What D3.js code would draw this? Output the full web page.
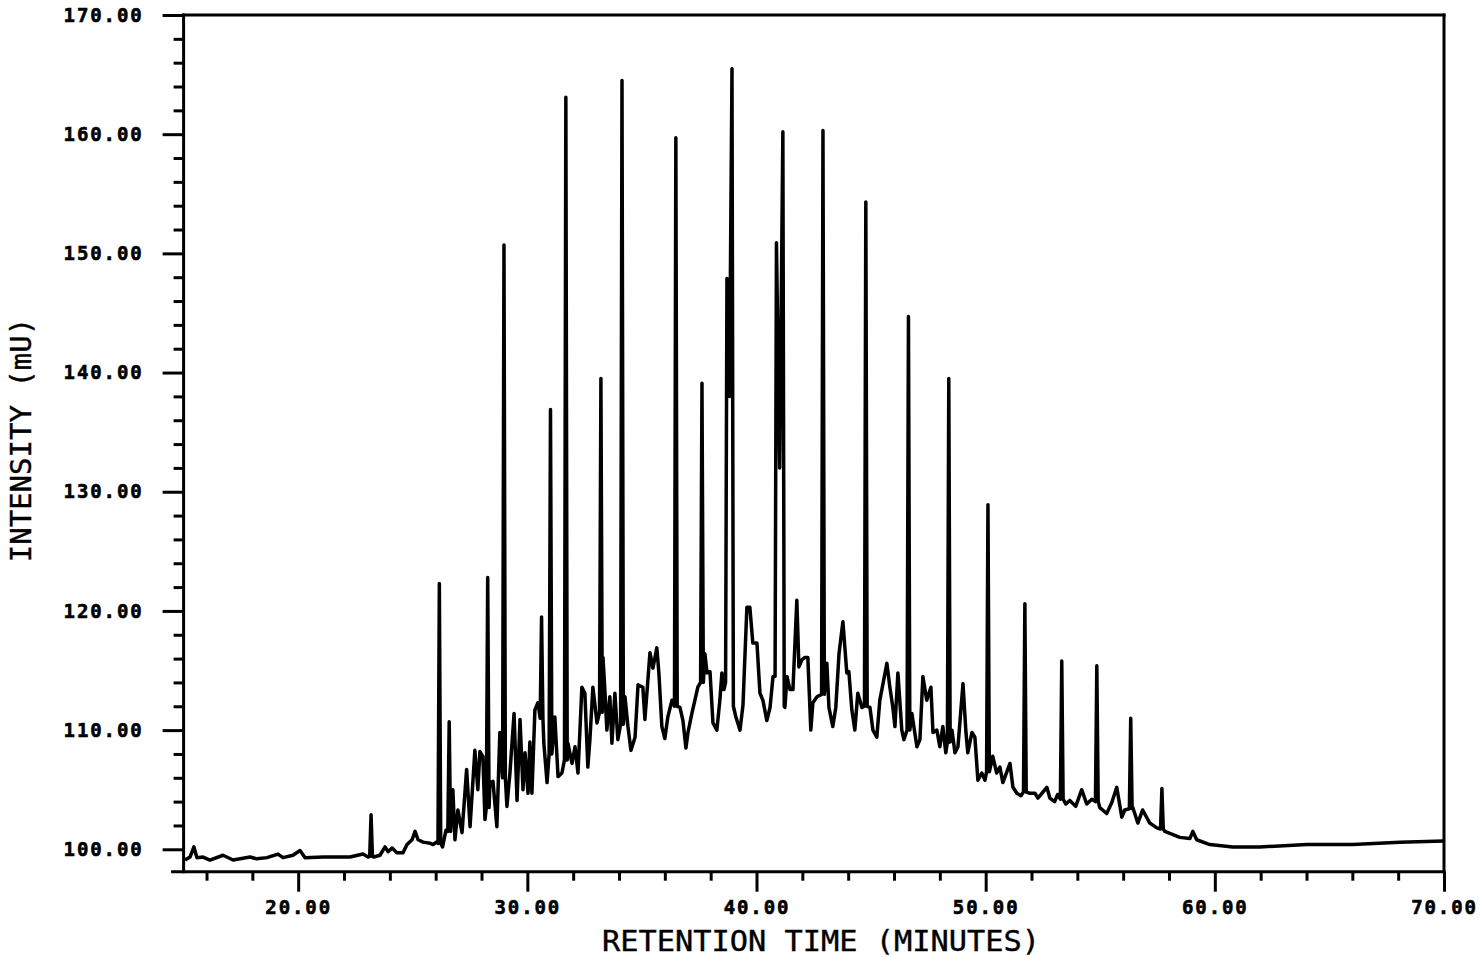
<!DOCTYPE html>
<html>
<head>
<meta charset="utf-8">
<script src="https://cdn.jsdelivr.net/npm/d3@7"></script>
<style>
  html, body { margin: 0; padding: 0; background: #fff; }
  svg { display: block; }
  .tick text { font-family: "DejaVu Sans Mono", monospace; font-weight: bold; font-size: 19px; letter-spacing: 1.9px; fill: #000; stroke: #000; stroke-width: 0.6px; }
  .tick line { stroke: #000; stroke-width: 3; }
  .axis-title { font-family: "DejaVu Sans Mono", monospace; font-size: 29px; fill: #000; stroke: #000; stroke-width: 0.4px; }
</style>
</head>
<body>
<div id="chart"></div>
<script>
// Chromatogram trace: detector intensity against retention time

// Axis ticks
let xTicks = [20, 30, 40, 50, 60, 70];
let yTicks = [100, 110, 120, 130, 140, 150, 160, 170];

// Sharp peaks: retention time (min), apex (mU) and level at the foot (mU)
let peakTime = [23.18, 26.16, 26.59, 28.27, 28.98, 30.62, 31.01, 31.68, 33.21, 34.13,
	36.48, 37.62, 38.71, 38.93, 40.87, 41.15, 42.90, 44.77, 46.63, 48.39,
	50.10, 51.71, 53.32, 54.85, 56.33, 57.69];
let peakHeight = [102.9, 122.3, 110.7, 122.8, 150.7, 119.5, 136.9, 163.1, 139.5, 164.5,
	159.7, 139.1, 147.9, 165.5, 150.9, 160.2, 160.3, 154.3, 144.7, 139.5,
	128.9, 120.6, 115.8, 115.4, 111.0, 105.1];
let peakFoot = [99.4, 100.5, 101.5, 103.5, 106.0, 111.0, 108.0, 107.5, 111.5, 110.5,
	112.0, 114.0, 114.0, 112.0, 114.5, 112.0, 113.0, 112.0, 110.0, 109.0,
	106.5, 104.8, 104.2, 104.0, 103.4, 101.7];

// Rest of the trace (baseline, hump and small peaks)
let traceTime = [15.06, 15.28, 15.45, 15.58, 15.85, 16.15, 16.72, 17.16, 17.90, 18.20,
	18.64, 19.12, 19.34, 19.77, 20.08, 20.30, 21.09, 21.70, 22.26, 22.83,
	23.05, 23.30, 23.57, 23.79, 23.92, 24.10, 24.31, 24.57, 24.75, 24.97,
	25.10, 25.23, 25.45, 25.76, 25.89, 26.03, 26.30, 26.45, 26.75, 26.84,
	26.97, 27.15, 27.35, 27.50, 27.71, 27.84, 27.93, 28.06, 28.15, 28.37,
	28.50, 28.67, 28.80, 29.11, 29.24, 29.42, 29.55, 29.68, 29.81, 29.90,
	30.03, 30.11, 30.20, 30.33, 30.46, 30.72, 30.86, 31.20, 31.34, 31.51,
	31.77, 31.95, 32.08, 32.21, 32.38, 32.51, 32.64, 32.73, 32.86, 33.04,
	33.30, 33.39, 33.47, 33.60, 33.69, 33.82, 33.95, 34.26, 34.39, 34.52,
	34.70, 34.83, 35.04, 35.13, 35.26, 35.35, 35.48, 35.65, 35.74, 35.87,
	36.00, 36.13, 36.31, 36.66, 36.79, 36.92, 37.01, 37.18, 37.31, 37.44,
	37.75, 37.84, 37.97, 38.10, 38.27, 38.40, 38.49, 38.58, 38.82, 39.10,
	39.28, 39.41, 39.58, 39.71, 39.84, 40.02, 40.15, 40.28, 40.45, 40.59,
	40.72, 41.01, 41.24, 41.33, 41.46, 41.59, 41.76, 41.85, 41.98, 42.11,
	42.24, 42.37, 42.46, 42.64, 43.07, 43.16, 43.33, 43.46, 43.60, 43.77,
	43.94, 44.03, 44.16, 44.29, 44.42, 44.60, 44.95, 45.08, 45.25, 45.38,
	45.52, 45.69, 45.82, 45.95, 46.04, 46.17, 46.34, 46.43, 46.78, 47.00,
	47.13, 47.26, 47.43, 47.61, 47.70, 47.87, 48.00, 48.13, 48.26, 48.53,
	48.66, 48.79, 49.01, 49.14, 49.22, 49.40, 49.53, 49.66, 49.83, 49.97,
	50.31, 50.48, 50.62, 50.75, 51.06, 51.19, 51.36, 51.54, 51.93, 52.15,
	52.28, 52.67, 52.80, 53.01, 53.14, 53.50, 53.67, 53.93, 54.19, 54.41,
	54.63, 54.98, 55.28, 55.50, 55.72, 55.94, 56.07, 56.42, 56.64, 56.85,
	57.16, 57.47, 57.82, 58.47, 58.91, 59.04, 59.21, 59.78, 60.78, 61.96,
	64.01, 66.02, 68.07, 69.99];
let traceValue = [99.1, 99.35, 100.2, 99.3, 99.35, 99.1, 99.5, 99.1, 99.35, 99.2,
	99.3, 99.6, 99.3, 99.5, 99.9, 99.3, 99.35, 99.35, 99.35, 99.6,
	99.35, 99.35, 99.5, 100.2, 99.8, 100.1, 99.7, 99.7, 100.4, 100.8,
	101.5, 100.8, 100.6, 100.5, 100.4, 100.6, 100.2, 101.6, 105.0, 100.8,
	103.3, 101.4, 106.7, 101.9, 108.3, 105.0, 108.2, 107.8, 102.5, 105.6,
	105.7, 101.9, 109.8, 103.6, 106.4, 111.4, 104.1, 110.9, 105.0, 108.1,
	104.7, 109.0, 104.7, 111.7, 112.3, 108.9, 105.6, 111.1, 106.1, 106.4,
	108.9, 107.2, 108.6, 106.4, 113.6, 113.1, 106.9, 109.2, 113.6, 110.6,
	116.1, 113.1, 110.0, 112.8, 108.9, 113.1, 109.2, 112.8, 110.3, 108.3,
	109.4, 113.8, 113.6, 110.9, 114.2, 116.5, 115.2, 116.9, 114.8, 110.3,
	109.3, 111.1, 112.5, 111.9, 110.8, 108.5, 109.8, 111.4, 112.5, 113.6,
	116.4, 114.8, 114.9, 110.6, 110.0, 112.5, 114.8, 113.4, 138.0, 111.1,
	110.0, 112.1, 120.3, 120.3, 117.3, 117.3, 113.1, 112.5, 110.8, 111.9,
	114.5, 132.0, 111.9, 114.5, 113.4, 113.4, 120.9, 115.3, 115.9, 116.1,
	116.1, 110.0, 112.3, 112.8, 115.6, 111.9, 110.3, 111.9, 116.4, 119.1,
	114.8, 114.9, 111.7, 110.0, 113.1, 111.9, 111.9, 110.0, 109.4, 112.5,
	113.9, 115.6, 113.6, 111.9, 110.3, 114.8, 110.0, 109.2, 111.4, 108.6,
	109.2, 114.5, 112.5, 113.6, 109.8, 110.0, 108.6, 110.3, 108.1, 110.0,
	108.1, 108.6, 113.9, 109.8, 108.1, 109.8, 109.4, 105.8, 106.4, 105.8,
	107.8, 106.4, 106.9, 105.6, 107.2, 105.2, 104.7, 104.5, 104.7, 104.7,
	104.3, 105.2, 104.3, 104.0, 104.6, 103.8, 104.1, 103.6, 105.0, 103.8,
	104.2, 103.5, 103.0, 103.9, 105.2, 102.7, 103.3, 103.5, 102.2, 103.3,
	102.2, 101.8, 101.5, 101.0, 100.9, 101.5, 100.8, 100.4, 100.2, 100.2,
	100.4, 100.4, 100.6, 100.7];

// -------------------------------

let width = 1482,
	height = 957;

let svg = d3.select("#chart")
	.append("svg")
	.attr("width", width)
	.attr("height", height);

// Scales, plot frame runs from 15 to 70 minutes
let x = d3.scaleLinear().domain([15, 70]).range([183.6, 1444]);
let y = d3.scaleLinear().domain([98.12, 170]).range([871.7, 15]);

let xMinor = d3.range(16, 70, 2).filter(d => xTicks.indexOf(d) < 0);
let yMinor = d3.range(102, 170, 2).filter(d => yTicks.indexOf(d) < 0);

// Minor ticks first, then the labelled ones
svg.append("g")
	.attr("transform", "translate(0," + y.range()[0] + ")")
	.call(d3.axisBottom(x).tickValues(xMinor).tickSize(9).tickSizeOuter(0).tickFormat(""))
	.call(g => g.select(".domain").remove());

svg.append("g")
	.attr("transform", "translate(0," + y.range()[0] + ")")
	.call(d3.axisBottom(x).tickValues(xTicks).tickSize(20).tickSizeOuter(0)
		.tickPadding(9).tickFormat(d3.format(".2f")))
	.call(g => g.select(".domain").remove());

svg.append("g")
	.attr("transform", "translate(" + x.range()[0] + ",0)")
	.call(d3.axisLeft(y).tickValues(yMinor).tickSize(10).tickSizeOuter(0).tickFormat(""))
	.call(g => g.select(".domain").remove());

svg.append("g")
	.attr("transform", "translate(" + x.range()[0] + ",0)")
	.call(d3.axisLeft(y).tickValues(yTicks).tickSize(21).tickSizeOuter(0)
		.tickPadding(19).tickFormat(d3.format(".2f")))
	.call(g => g.select(".domain").remove());

svg.selectAll(".tick text").attr("fill", "#000");

// Frame round the plot
let x0 = x.range()[0], x1 = x.range()[1],
	yTop = y.range()[1], yBot = y.range()[0];
let frame = [
	[x0, yTop, x1, yTop],
	[x1, yTop, x1, yBot],
	[x0 - 11, yBot, x1, yBot],
	[x0, yTop, x0, yBot]
];
svg.append("g")
	.selectAll("line")
	.data(frame)
	.enter().append("line")
	.attr("x1", d => d[0]).attr("y1", d => d[1])
	.attr("x2", d => d[2]).attr("y2", d => d[3])
	.attr("stroke", "#000")
	.attr("stroke-width", 3)
	.attr("stroke-linecap", "square");

// Put the sharp peaks into the trace: each spike rises from its foot level
let halfWidth = 0.06;
let points = traceTime.map((t, i) => ({t: t, v: traceValue[i]}))
	.filter(p => !peakTime.some(pt => Math.abs(pt - p.t) < halfWidth));

peakTime.forEach((t, i) => {
	let prev = peakTime[i - 1], next = peakTime[i + 1];
	if (prev === undefined || t - prev > 0.3) points.push({t: t - halfWidth, v: peakFoot[i]});
	points.push({t: t, v: peakHeight[i]});
	if (next === undefined || next - t > 0.3) points.push({t: t + halfWidth, v: peakFoot[i]});
});
points.sort((a, b) => a.t - b.t);

let line = d3.line()
	.x(d => x(d.t))
	.y(d => y(d.v));

svg.append("path")
	.datum(points)
	.attr("d", line)
	.attr("fill", "none")
	.attr("stroke", "#000")
	.attr("stroke-width", 3.5)
	.attr("stroke-linejoin", "round");

// Axis titles
svg.append("text")
	.attr("class", "axis-title")
	.attr("x", 821)
	.attr("y", 951)
	.attr("text-anchor", "middle")
	.attr("textLength", 438)
	.attr("lengthAdjust", "spacingAndGlyphs")
	.text("RETENTION TIME (MINUTES)");

svg.append("text")
	.attr("class", "axis-title")
	.attr("transform", "translate(31,440) rotate(-90)")
	.attr("text-anchor", "middle")
	.text("INTENSITY (mU)");
</script>
</body>
</html>
